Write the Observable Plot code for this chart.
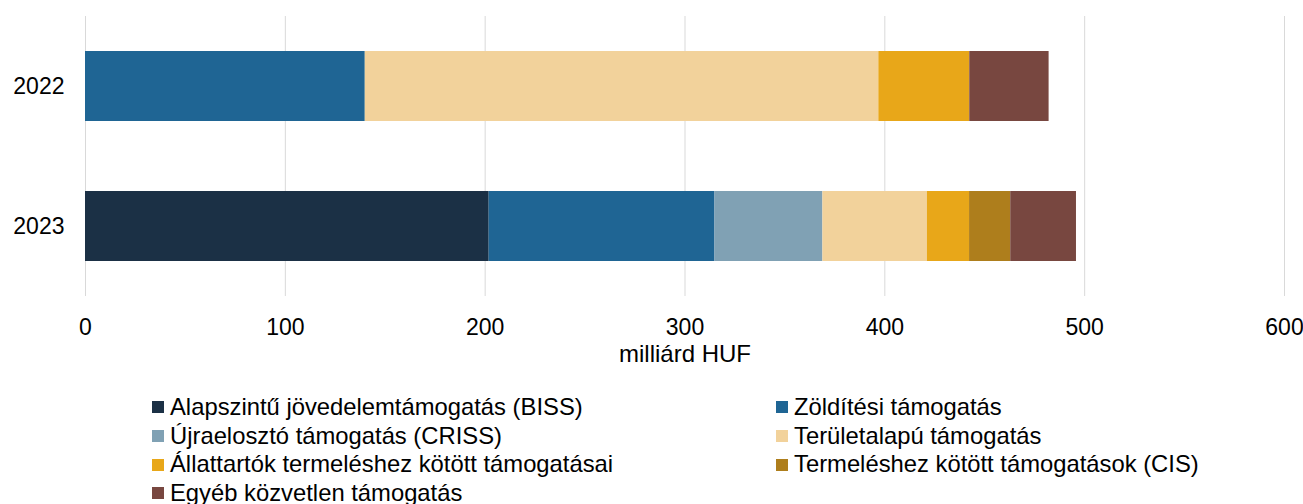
<!DOCTYPE html>
<html>
<head>
<meta charset="utf-8">
<script src="https://cdn.jsdelivr.net/npm/d3@7"></script>
<script src="https://cdn.jsdelivr.net/npm/@observablehq/plot@0.6"></script>
<style>
  html, body { margin: 0; padding: 0; background: #fff; }
  body { font-family: "Liberation Sans", Arial, sans-serif; width: 1303px; }
  #legend { display: grid; grid-template-columns: 624px auto; padding-left: 152px; margin-top: 13px; font-size: 23.8px; line-height: 28.7px; color: #000; }
  .item { display: flex; align-items: center; white-space: nowrap; }
  .sw { width: 12px; height: 12px; margin-right: 6px; flex: none; }
</style>
</head>
<body>
<div id="chart"></div>
<div id="legend"></div>
<script>
const years = ["2022", "2023"];
const series = [
  "Alapszintű jövedelemtámogatás (BISS)",
  "Zöldítési támogatás",
  "Újraelosztó támogatás (CRISS)",
  "Területalapú támogatás",
  "Állattartók termeléshez kötött támogatásai",
  "Termeléshez kötött támogatások (CIS)",
  "Egyéb közvetlen támogatás"
];
const colors = ["#1b3045", "#1f6594", "#80a1b4", "#f2d29b", "#e8a719", "#ae7e1c", "#784740"];
const values2022 = [0, 140, 0, 257, 45.5, 0, 39.7];
const values2023 = [202, 113, 54, 52.3, 21.1, 20.6, 32.9];
const xTicks = [0, 100, 200, 300, 400, 500, 600];
const xLabel = "milliárd HUF";

const data = [];
[values2022, values2023].forEach((vals, i) => {
  vals.forEach((v, j) => { if (v > 0) data.push({year: years[i], series: series[j], value: v}); });
});

const chart = Plot.plot({
  width: 1303,
  height: 380,
  marginLeft: 85,
  marginRight: 19,
  marginTop: 16,
  marginBottom: 84,
  style: {fontFamily: "'Liberation Sans', Arial, sans-serif", fontSize: "23px", color: "#000", background: "#fff"},
  x: {domain: [0, 600], ticks: xTicks, label: null, tickSize: 0, tickPadding: 22, grid: false},
  y: {domain: years, label: null, tickSize: 0, tickPadding: 21, paddingInner: 0.5, paddingOuter: 0.25},
  color: {domain: series, range: colors},
  marks: [
    Plot.ruleX(xTicks, {stroke: "#d9d9d9", strokeWidth: 1}),
    Plot.barX(data, {y: "year", x: "value", fill: "series", order: null}),
    Plot.text([xLabel], {text: d => d, frameAnchor: "bottom", dy: 65, fontSize: 24, fill: "#000"})
  ]
});
document.getElementById("chart").appendChild(chart);

const legend = document.getElementById("legend");
series.forEach((s, i) => {
  const item = document.createElement("div");
  item.className = "item";
  const sw = document.createElement("span");
  sw.className = "sw";
  sw.style.background = colors[i];
  item.appendChild(sw);
  item.appendChild(document.createTextNode(s));
  legend.appendChild(item);
});
</script>
</body>
</html>
